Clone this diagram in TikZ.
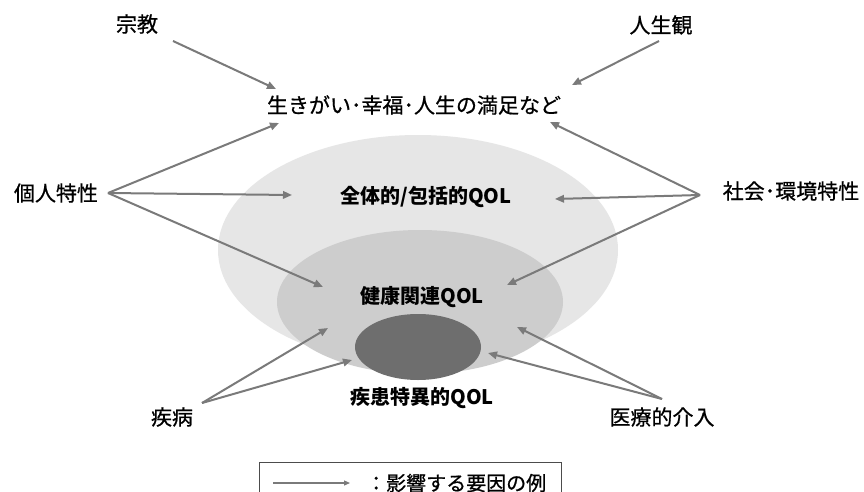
\documentclass[tikz,border=0pt]{standalone}
\usepackage{fontspec}
\newfontfamily\jp{Noto Sans CJK JP}[FakeBold=0.7]
\newfontfamily\jpq{Noto Sans CJK JP}
\usetikzlibrary{arrows.meta}
\definecolor{arrowgray}{HTML}{7A7A7A}
\definecolor{outerfill}{HTML}{E6E6E6}
\definecolor{midfill}{HTML}{CDCDCD}
\definecolor{darkfill}{HTML}{6E6E6E}
\tikzset{
  lbl/.style={font=\jp\fontsize{21}{21}\selectfont, inner sep=0pt},
  qol/.style={font=\jpq\bfseries\fontsize{20}{20}\selectfont, inner sep=0pt},
  infl/.style={draw=arrowgray, line width=2pt, -{Triangle[length=9pt,width=7.5pt]}},
  legarrow/.style={draw=arrowgray, line width=1.2pt, -{Triangle[length=6pt,width=5pt]}},
}
\begin{document}
\begin{tikzpicture}[x=1pt,y=-1pt]
\useasboundingbox (0,0) rectangle (864,492);
\fill[white] (0,0) rectangle (864,492);
% nested QOL ellipses
\fill[outerfill] (418,250) ellipse [x radius=200, y radius=115];
\fill[midfill] (420,302) ellipse [x radius=143, y radius=72];
\fill[darkfill] (418,347) ellipse [x radius=63, y radius=33];
% labels
\node[lbl] (shukyo) at (137,24) {宗教};
\node[lbl] (jinseikan) at (661,25) {人生観};
\node[lbl] (ikigai) at (414,105) {生きがい･幸福･人生の満足など};
\node[lbl] (kojin) at (56,193) {個人特性};
\node[lbl] (shakai) at (791,191) {社会･環境特性};
\node[lbl] (shippei) at (172,417) {疾病};
\node[lbl] (iryo) at (662,417) {医療的介入};
\node[qol] (zentai) at (426,197) {全体的/包括的QOL};
\node[qol] (kenko) at (422,297) {健康関連QOL};
\node[qol] (shikkan) at (422,398) {疾患特異的QOL};
% connector end points
\coordinate (s1) at (173,41);   \coordinate (t1) at (276,89);
\coordinate (s2) at (659,41);   \coordinate (t2) at (572,85);
\coordinate (s3) at (108,193);
\coordinate (t3a) at (279,123); \coordinate (t3b) at (292,195); \coordinate (t3c) at (323,287);
\coordinate (s4) at (700,195);
\coordinate (t4a) at (550,122); \coordinate (t4b) at (555,199); \coordinate (t4c) at (507,285);
\coordinate (s5) at (202,403);
\coordinate (t5a) at (328,328); \coordinate (t5b) at (352,360);
\coordinate (s6) at (662,399);
\coordinate (t6a) at (517,327); \coordinate (t6b) at (488,353);
% influence arrows
\draw[infl] (s1) -- (t1);
\draw[infl] (s2) -- (t2);
\draw[infl] (s3) -- (t3a);
\draw[infl] (s3) -- (t3b);
\draw[infl] (s3) -- (t3c);
\draw[infl] (s4) -- (t4a);
\draw[infl] (s4) -- (t4b);
\draw[infl] (s4) -- (t4c);
\draw[infl] (s5) -- (t5a);
\draw[infl] (s5) -- (t5b);
\draw[infl] (s6) -- (t6a);
\draw[infl] (s6) -- (t6b);
% legend
\draw[black!70, line width=0.8pt] (259,492) -- (259,462) -- (561,462) -- (561,492);
\coordinate (la) at (273,483); \coordinate (lb) at (350,483);
\draw[legarrow] (la) -- (lb);
\node[lbl, font=\jp\fontsize{20}{20}\selectfont, anchor=west] (legend) at (366,483) {：影響する要因の例};
\end{tikzpicture}
\end{document}
